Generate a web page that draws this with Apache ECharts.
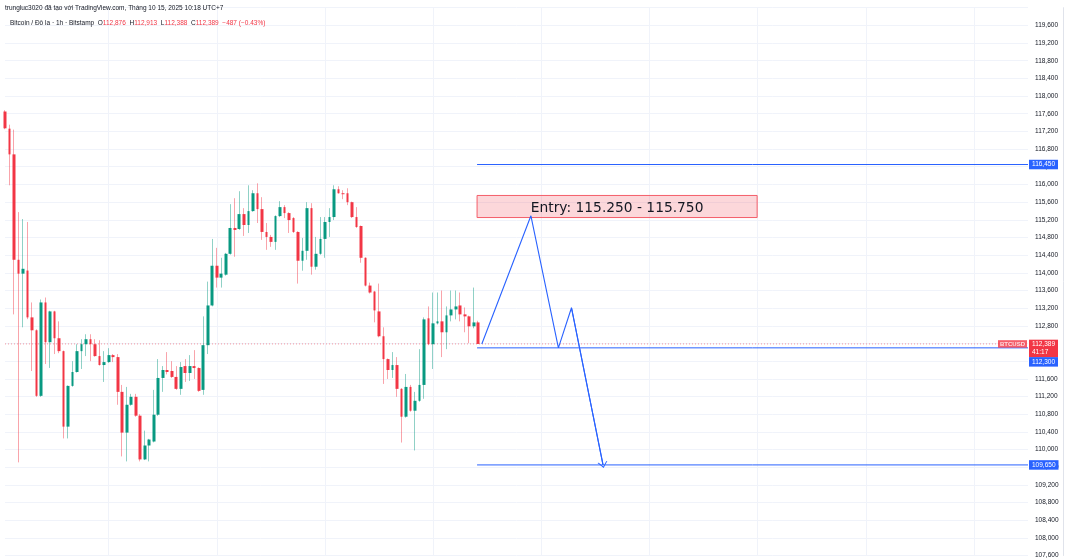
<!DOCTYPE html>
<html><head><meta charset="utf-8">
<script src="https://cdn.jsdelivr.net/npm/echarts@6/dist/echarts.min.js"></script>
<style>html,body{margin:0;padding:0;background:#fff}#c{width:1069px;height:559px}</style>
</head><body><div id="c"></div>
<script>
// ---- data (1h candles, BTC/USD Bitstamp) ----
const opens = [117650,117262,116680,114294,113980,114050,112990,112698,111214,113328,
112428,113125,112518,112226,110517,111439,111754,112226,112383,112496,
112383,112114,111911,111978,112136,112091,111304,110382,111012,111192,
110765,109775,110090,110180,110787,111619,111799,111777,111642,111372,
111888,111731,111888,111843,111349,112361,113260,114159,113890,113957,
114429,115014,114991,115328,115081,115396,115800,115441,114924,114811,
114699,115283,115486,115351,115238,114924,114272,114497,115463,114137,
114429,114766,115149,115261,115890,115800,115800,115598,115261,115059,
114339,113710,113575,113125,112563,112046,111799,111911,111372,110742,
111416,110877,111102,111461,112968,112383,112855,112900,112653,113035,
113170,113260,113058,113013,112788,112876];
const closes = [117270,116680,114294,113980,114090,112990,112698,111214,113328,112428,
113125,112518,112226,110517,111439,111754,112226,112383,112496,112383,
112114,111911,111978,112136,112091,111304,110382,111012,111192,110765,
109775,110090,110225,110787,111619,111799,111754,111642,111372,111866,
111731,111888,111843,111327,112361,113260,114159,113890,113980,114429,
115014,114969,115328,115081,115396,115800,115441,114924,114811,114699,
115283,115486,115351,115193,114924,114272,114497,115463,114137,114429,
114766,115149,115261,115890,115800,115778,115598,115261,115036,114339,
113710,113553,113148,112563,112046,111799,111911,111372,110742,111416,
110877,111102,111461,112945,112383,112855,112900,112653,113035,113170,
113238,113058,113013,112788,112876,112389];
const lows = [117250,115980,113058,109708,112765,112950,111776,111190,111190,111934,
111845,112160,112180,110250,110250,111420,111740,111822,112114,111999,
112100,111900,111529,111960,111978,111012,109843,109730,110990,110740,
109730,109760,109730,110160,110760,111304,111700,111619,111349,111237,
111529,111551,111596,111304,111237,112160,113240,113665,113665,113935,
114410,114362,114970,114834,114901,115380,115126,114744,114519,114587,
114519,115260,115238,114901,114900,113755,114047,114294,113957,114070,
114407,114339,114811,115193,115790,115666,115531,115240,115014,114227,
113690,113530,112878,112540,111484,111596,111619,111192,110157,110720,
110855,109978,111080,111147,112360,111822,112830,112091,112271,112900,
112945,112900,112653,112406,112743,112388];
const highs = [117680,117352,117240,115373,115216,115150,113328,112720,113395,113440,
113140,113140,112900,112240,111450,111999,112383,112496,112608,112608,
112496,112473,112226,112293,112160,112160,111461,111416,111259,111259,
110800,110427,110240,111349,112046,111888,112204,111999,111888,111978,
112046,112136,112249,111860,113013,113800,114766,114564,114339,114450,
115553,115688,115846,115463,115980,115868,116025,115711,115126,114856,
115300,115621,115531,115370,115260,114940,114789,115598,115576,114811,
115261,115261,115463,115980,115958,115868,115913,115610,115486,115070,
114350,113777,113590,113755,112765,112060,112204,112091,111390,111709,
111461,111304,112271,112990,113238,113553,113553,113598,113238,113598,
113598,113553,113215,113030,113665,112913];

const slotCount = 228;                 // hourly slots shown on the time axis
const levels = [116450, 112300, 109650]; // horizontal lines
const lastPrice = 112389;
const countdown = '41:17';
const entryZone = [115250, 115750];
const entryText = 'Entry: 115.250 - 115.750';
const drawStart = 104.75, entryEnd = 166.9;
const pathX = [105.8, 116.7, 122.8, 125.7, 132.7];
const pathY = [112389, 115290, 112300, 113208, 109650];
const yMin = 107600, yMax = 120000, yStep = 400;

const headerLine1 = 'trungluc3020 đã tạo với TradingView.com, Tháng 10 15, 2025 10:18 UTC+7';
const headerSymbol = 'Bitcoin / Đô la · 1h · Bitstamp';
const ohlcHeader = [['O','112,876'],['H','112,913'],['L','112,388'],['C','112,389']];
const changeText = '−487 (−0.43%)';

// ---- chart ----
const UP = '#089981', DOWN = '#f23645', BLUE = '#2962ff';
const fmt = v => v.toLocaleString('en-US');
const cats = Array.from({length: slotCount}, (_, i) => String(i));
const wickData = opens.map((o, i) => [o, closes[i], lows[i], highs[i]]);
const bodyData = opens.map((o, i) => [o, closes[i], Math.min(o, closes[i]), Math.max(o, closes[i])]);
const FONT = 'Liberation Sans';

const line2 = '{d|' + headerSymbol + '  }' +
  ohlcHeader.map(([k, v]) => '{d|' + k + '}{r|' + v + '  }').join('') + '{r|' + changeText + '}';

const levelSeries = levels.map((lv, k) => ({
  type: 'line', xAxisIndex: 1, yAxisIndex: 0, clip: false, silent: true,
  data: [[drawStart, lv], [slotCount - 1, lv]], symbol: 'none',
  lineStyle: {color: BLUE, width: 1}, z: 5,
  endLabel: {show: true, formatter: fmt(lv), distance: 1, color: '#fff', backgroundColor: BLUE,
    fontSize: 6.5, fontFamily: FONT, padding: [1.5, 3, 1, 3], offset: [0, lv === 112300 ? 14 : 0]}
}));

const option = {
  animation: false,
  backgroundColor: '#ffffff',
  title: [
    {text: headerLine1, left: 5, top: 4.5, padding: 0, textStyle: {fontSize: 6.5, fontWeight: 'normal', color: '#131722', fontFamily: FONT}},
    {text: line2, left: 10, top: 20, padding: 0, textStyle: {fontSize: 6.5, fontWeight: 'normal', fontFamily: FONT, rich: {
      d: {fontSize: 6.5, fontWeight: 'normal', color: '#131722', fontFamily: FONT},
      r: {fontSize: 6.5, fontWeight: 'normal', color: DOWN, fontFamily: FONT}}}}
  ],
  grid: {left: 5, right: 41, top: 7.7, bottom: -0.2, containLabel: false},
  xAxis: [
    {type: 'category', data: cats, boundaryGap: false, axisLine: {show: false}, axisTick: {show: false},
     axisLabel: {show: false},
     splitLine: {show: true, interval: (i) => i % 24 === 23, lineStyle: {color: '#f0f3fa', width: 1}}},
    {type: 'value', min: 0, max: slotCount - 1, show: false, splitLine: {show: false}}
  ],
  yAxis: [
    {type: 'value', position: 'right', min: yMin, max: yMax, interval: yStep,
     axisLine: {show: false}, axisTick: {show: false},
     axisLabel: {color: '#131722', fontSize: 6.5, fontFamily: FONT, margin: 7, showMaxLabel: false, formatter: fmt},
     splitLine: {lineStyle: {color: '#f0f3fa', width: 1}}},
    {type: 'value', position: 'right', offset: 35, min: yMin, max: yMax,
     axisLine: {show: true, lineStyle: {color: '#e0e3eb'}}, axisTick: {show: false},
     axisLabel: {show: false}, splitLine: {show: false}}
  ],
  series: [
    {type: 'line', xAxisIndex: 1, yAxisIndex: 0, clip: false, silent: true, symbol: 'none', z: 1,
     data: [[0, lastPrice], [slotCount - 1, lastPrice]],
     lineStyle: {color: 'rgba(242,54,69,0.5)', width: 1, type: [1, 2]},
     endLabel: {show: true, formatter: fmt(lastPrice) + '\n' + countdown, distance: 1, color: '#fff',
       backgroundColor: DOWN, fontSize: 6.5, lineHeight: 8, fontFamily: FONT, padding: [1, 3, 0.5, 3], offset: [0, 4.5]}},
    {type: 'scatter', xAxisIndex: 1, yAxisIndex: 0, clip: false, silent: true, symbolSize: 0, z: 6,
     data: [[slotCount - 1, lastPrice]],
     label: {show: true, position: 'left', distance: 1, formatter: 'BTCUSD', color: '#fff', backgroundColor: DOWN,
       fontSize: 6, fontWeight: 'bold', fontFamily: FONT, padding: [1, 2, 0.5, 2]}},
    {type: 'candlestick', xAxisIndex: 0, yAxisIndex: 0, barWidth: 1, data: wickData, z: 2, silent: true,
     itemStyle: {color: 'rgba(8,153,129,0.45)', color0: 'rgba(242,54,69,0.45)',
       borderColor: 'rgba(8,153,129,0.45)', borderColor0: 'rgba(242,54,69,0.45)', borderWidth: 1}},
    {type: 'candlestick', xAxisIndex: 0, yAxisIndex: 0, barWidth: 3.2, data: bodyData, z: 3, silent: true,
     itemStyle: {color: UP, color0: DOWN, borderColor: UP, borderColor0: DOWN, borderWidth: 0}},
    ...levelSeries,
    {type: 'line', xAxisIndex: 1, yAxisIndex: 0, clip: false, silent: true, symbol: 'none', z: 6,
     data: pathX.map((x, i) => [x, pathY[i]]), lineStyle: {color: BLUE, width: 1.1},
     markArea: {silent: true, z: 4,
       itemStyle: {color: 'rgba(242,54,69,0.2)', borderColor: '#f45d69', borderWidth: 1},
       label: {show: true, position: 'inside', formatter: entryText, color: '#131722', fontSize: 13.8, fontFamily: 'DejaVu Sans', offset: [0, 1.5]},
       data: [[{coord: [drawStart, entryZone[1]]}, {coord: [entryEnd, entryZone[0]]}]]},
     markLine: {silent: true, symbol: ['none', 'path://M5,0 L10,8 L8.8,8 L5,1.8 L1.2,8 L0,8 Z'], symbolSize: [10, 6],
       lineStyle: {color: BLUE, width: 1.1, type: 'solid'}, label: {show: false},
       data: [[{coord: [pathX[3], pathY[3]]}, {coord: [pathX[4], pathY[4]]}]]}}
  ]
};
const chart = echarts.init(document.getElementById('c'), null, {renderer: 'canvas'});
chart.setOption(option);
</script></body></html>
